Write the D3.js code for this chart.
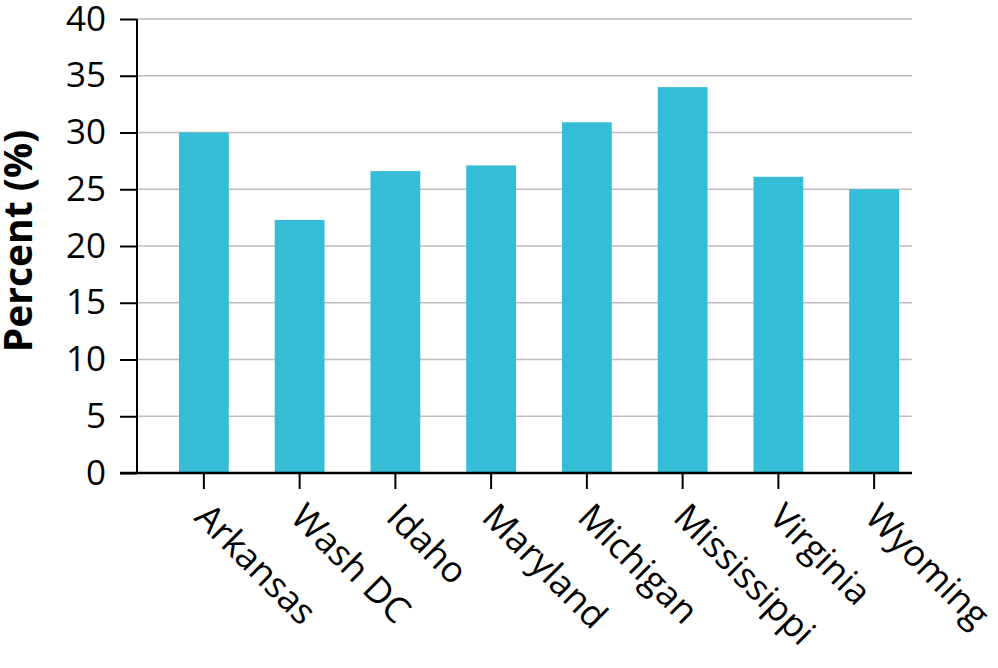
<!DOCTYPE html>
<html>
<head>
<meta charset="utf-8">
<script src="https://cdn.jsdelivr.net/npm/d3@7"></script>
<style>
  body { margin: 0; background: #fff; }
  text { font-family: "Open Sans", "Noto Sans", sans-serif; fill: #000; }
</style>
</head>
<body>
<div id="bar_chart"></div>
<script>
// chart data
const states = ["Arkansas", "Wash DC", "Idaho", "Maryland", "Michigan", "Mississippi", "Virginia", "Wyoming"];
const percents = [30, 22.3, 26.6, 27.1, 30.9, 34, 26.1, 25];
const yTicks = [0, 5, 10, 15, 20, 25, 30, 35, 40];

const width = 998, height = 668;
const plot = {left: 137, right: 912, top: 19, bottom: 473};

const svg = d3.select("#bar_chart")
  .append("svg")
  .attr("width", width)
  .attr("height", height);

// scales
const x = d3.scaleBand()
  .domain(states)
  .range([156, 922])
  .paddingInner(0.48)
  .paddingOuter(0.24);

const y = d3.scaleLinear()
  .domain([0, 40])
  .range([plot.bottom, plot.top]);

// gridlines
svg.append("g")
  .selectAll("line")
  .data(yTicks.filter(d => d > 0))
  .join("line")
  .attr("x1", plot.left)
  .attr("x2", plot.right)
  .attr("y1", d => y(d))
  .attr("y2", d => y(d))
  .attr("stroke", "#bdbdbd")
  .attr("stroke-width", 1.5);

// bars
svg.append("g")
  .selectAll("rect")
  .data(states)
  .join("rect")
  .attr("x", d => x(d))
  .attr("width", x.bandwidth())
  .attr("y", (d, i) => y(percents[i]))
  .attr("height", (d, i) => y(0) - y(percents[i]))
  .attr("fill", "#35bdd7");

// y axis
const yAxis = svg.append("g")
  .attr("transform", `translate(${plot.left},0)`)
  .call(d3.axisLeft(y).tickValues(yTicks).tickSize(17).tickPadding(14));
yAxis.select(".domain").remove();
yAxis.append("line")
  .attr("x1", 0).attr("x2", 0)
  .attr("y1", plot.top).attr("y2", plot.bottom)
  .attr("stroke", "#000").attr("stroke-width", 2);
yAxis.selectAll(".tick line").attr("stroke", "#000").attr("stroke-width", 2);
yAxis.selectAll(".tick text")
  .style("font-size", "35px")
  .attr("fill", "#000");

// x axis
const xAxis = svg.append("g")
  .attr("transform", `translate(0,${plot.bottom})`)
  .call(d3.axisBottom(x).tickSize(16).tickPadding(0));
xAxis.select(".domain").remove();
xAxis.append("line")
  .attr("x1", plot.left - 17).attr("x2", plot.right)
  .attr("y1", 0).attr("y2", 0)
  .attr("stroke", "#000").attr("stroke-width", 2.5);
xAxis.selectAll(".tick line").attr("stroke", "#000").attr("stroke-width", 2);
xAxis.selectAll(".tick text")
  .style("font-size", "36px")
  .attr("text-anchor", "start")
  .attr("y", 0)
  .attr("dy", "0.35em")
  .attr("transform", "translate(-2,37) rotate(45)");

// y axis title
svg.append("text")
  .attr("transform", `translate(32,${(plot.top + plot.bottom) / 2 - 5}) rotate(-90)`)
  .attr("text-anchor", "middle")
  .style("font-size", "39px")
  .style("font-weight", "bold")
  .text("Percent (%)");
</script>
</body>
</html>
